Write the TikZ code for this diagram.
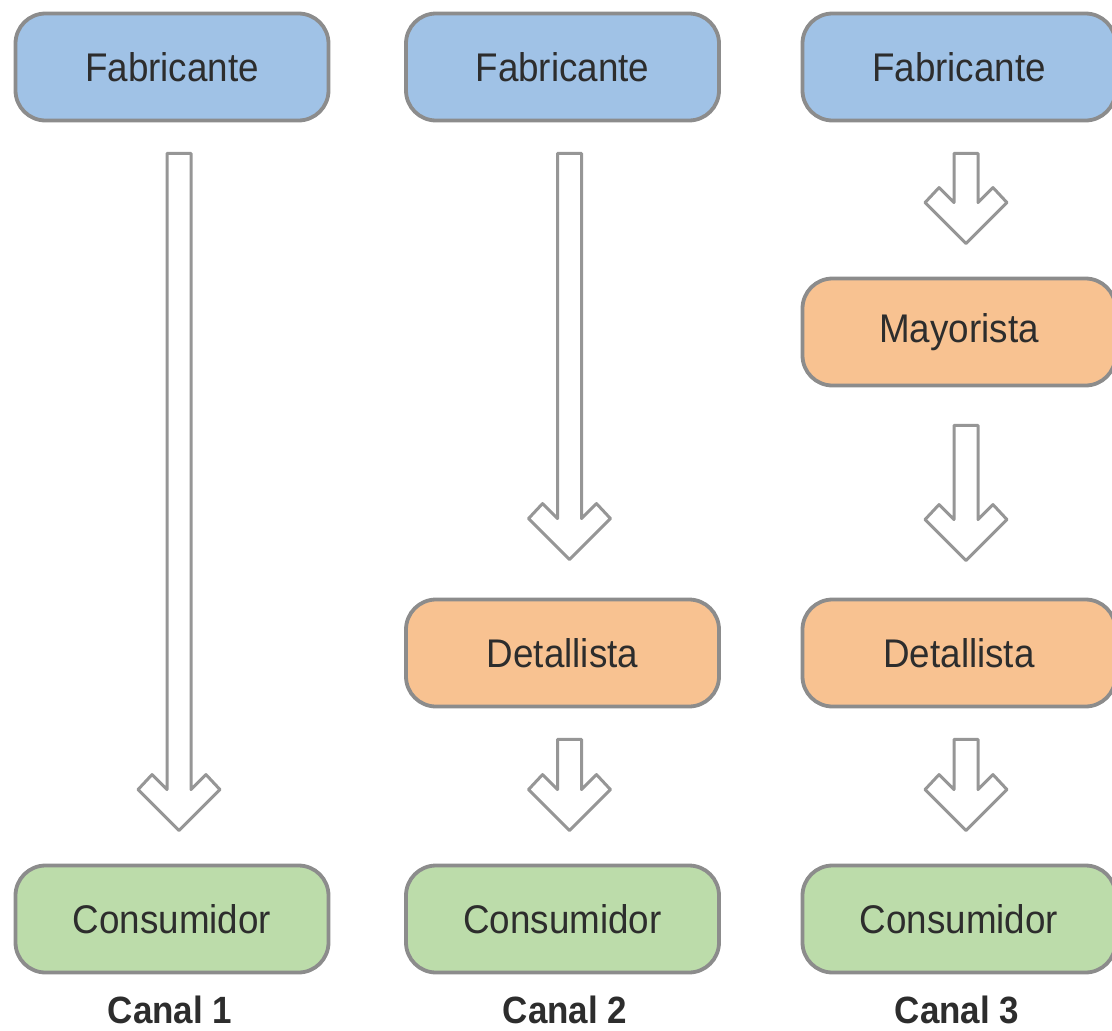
\documentclass[tikz,border=0pt]{standalone}
\usepackage{fontspec}
\setmainfont{Liberation Sans}
\newfontfamily\narrowsans[FakeStretch=0.92]{Liberation Sans}
\usetikzlibrary{calc}
\definecolor{boxblue}{RGB}{160,194,230}
\definecolor{boxorange}{RGB}{248,194,145}
\definecolor{boxgreen}{RGB}{188,220,170}
\definecolor{edgegray}{RGB}{140,140,140}
\definecolor{arrgray}{RGB}{150,150,150}
\definecolor{txtgray}{RGB}{45,45,45}
\tikzset{
  stage/.style={draw=edgegray, line width=3.8pt, rounded corners=30pt,
    minimum width=313pt, minimum height=107pt, inner sep=0pt,
    text=txtgray, font=\narrowsans\fontsize{40}{48}\selectfont},
  fab/.style={stage, fill=boxblue},
  mid/.style={stage, fill=boxorange},
  cons/.style={stage, fill=boxgreen},
  blockarrow/.style={draw=arrgray, fill=white, line width=3pt, line join=round},
  canal/.style={text=txtgray, font=\narrowsans\fontsize{38}{46}\selectfont\bfseries}
}
\newcommand\flowarrow[4]{%
  \draw[blockarrow] let \p1=($(#1.south)+(7,#3)$), \p2=($(#2.north)+(7,#4)$) in
    (\x1-12pt,\y1) -- (\x1-12pt,\y2+41pt) -- (\x1-27pt,\y2+56pt) -- (\x1-41pt,\y2+41pt)
    -- (\x1,\y2) -- (\x1+41pt,\y2+41pt) -- (\x1+27pt,\y2+56pt) -- (\x1+12pt,\y2+41pt)
    -- (\x1+12pt,\y1) -- cycle;}
\begin{document}
\begin{tikzpicture}[x=1pt,y=-1pt]
\useasboundingbox (0,0) rectangle (1112,1031);
\node[fab] (f1) at (172,67) {Fabricante};
\node[fab] (f2) at (562.5,67) {Fabricante};
\node[fab] (f3) at (959,67) {Fabricante};
\node[mid] (m3) at (959,332) {Mayorista};
\node[mid] (d2) at (562.5,653) {Detallista};
\node[mid] (d3) at (959,653) {Detallista};
\node[cons] (c1) at (172,919) {Consumidor};
\node[cons] (c2) at (562.5,919) {Consumidor};
\node[cons] (c3) at (959,919) {Consumidor};
\node[canal] (l1) at (170,1010) {Canal 1};
\node[canal] (l2) at (565,1010) {Canal 2};
\node[canal] (l3) at (957,1010) {Canal 3};
\flowarrow{f1}{c1}{31}{-33}
\flowarrow{f2}{d2}{31}{-38}
\flowarrow{d2}{c2}{31}{-33}
\flowarrow{f3}{m3}{31}{-33}
\flowarrow{m3}{d3}{38}{-37}
\flowarrow{d3}{c3}{31}{-33}
\end{tikzpicture}
\end{document}
